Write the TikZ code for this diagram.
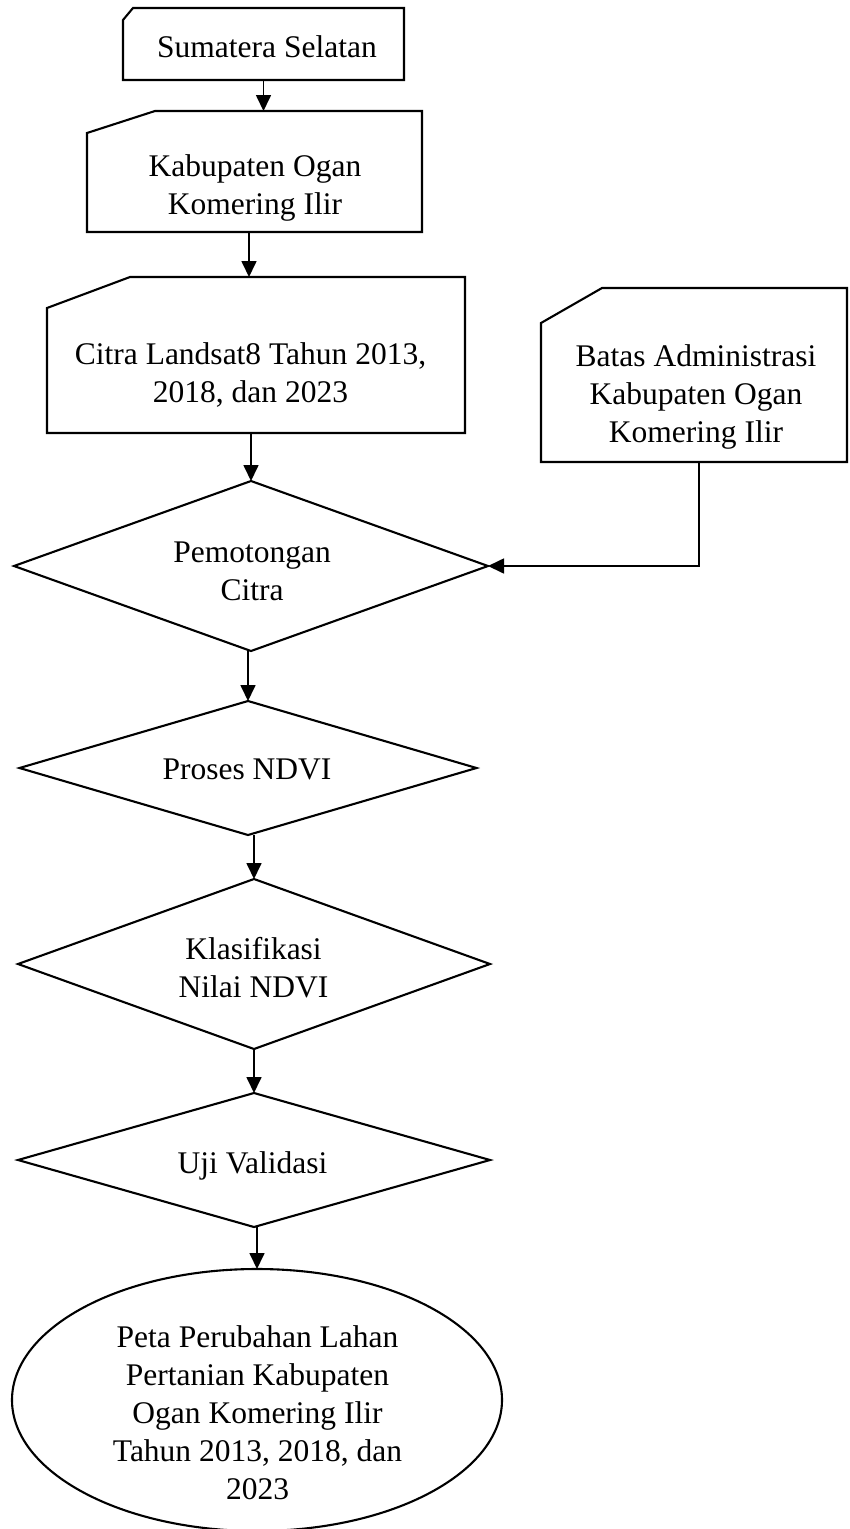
\documentclass[tikz,border=0pt]{standalone}
\usepackage{fontspec}
\setmainfont{Liberation Serif}
\usetikzlibrary{shapes.geometric,arrows.meta}
\begin{document}
\begin{tikzpicture}[x=1pt,y=-1pt,
  outline/.style={line width=2.1pt, line join=miter},
  slot/.style={draw=none, inner sep=0pt, outer sep=0pt},
  txt/.style={align=center, inner sep=0pt, font=\fontsize{31.5}{38}\selectfont},
  conn/.style={line width=1.7pt},
  arr/.style={conn, -{Triangle[length=16pt,width=15pt]}},
  dia/.style={diamond, draw, line width=2.1pt, inner sep=0pt, outer sep=0pt},
  oval/.style={ellipse, draw, line width=2.1pt, inner sep=0pt, outer sep=0pt},
]
\fill[white] (0,0) rectangle (850,1529);
\useasboundingbox (0,0) rectangle (850,1529);

% input boxes (cut top-left corner)
\node[slot, minimum width=281, minimum height=72] (b1) at (263.5,44) {};
\draw[outline] ([yshift=-12pt]b1.north west) -- ([xshift=10pt]b1.north west) -- (b1.north east) -- (b1.south east) -- (b1.south west) -- cycle;
\node[txt] (t1) at (267,47) {Sumatera Selatan};

\node[slot, minimum width=335, minimum height=121] (b2) at (254.5,171.5) {};
\draw[outline] ([yshift=-22pt]b2.north west) -- ([xshift=68pt]b2.north west) -- (b2.north east) -- (b2.south east) -- (b2.south west) -- cycle;
\node[txt] (t2) at (255,188) {Kabupaten Ogan\\Komering Ilir};

\node[slot, minimum width=418, minimum height=156] (b3) at (256,355) {};
\draw[outline] ([yshift=-31pt]b3.north west) -- ([xshift=83pt]b3.north west) -- (b3.north east) -- (b3.south east) -- (b3.south west) -- cycle;
\node[txt] (t3) at (250.5,374.5) {Citra Landsat8 Tahun 2013,\\2018, dan 2023};

\node[slot, minimum width=306, minimum height=174] (b4) at (694,375) {};
\draw[outline] ([yshift=-35pt]b4.north west) -- ([xshift=61pt]b4.north west) -- (b4.north east) -- (b4.south east) -- (b4.south west) -- cycle;
\node[txt] (t4) at (696,397) {Batas Administrasi\\Kabupaten Ogan\\Komering Ilir};

% process diamonds
\node[dia, minimum width=474, minimum height=170] (d1) at (251,566) {};
\node[txt] (t5) at (252,571) {Pemotongan\\Citra};

\node[dia, minimum width=457, minimum height=134] (d2) at (248,768) {};
\node[txt] (t6) at (247,769) {Proses NDVI};

\node[dia, minimum width=472, minimum height=170] (d3) at (254,964) {};
\node[txt] (t7) at (253.5,968) {Klasifikasi\\Nilai NDVI};

\node[dia, minimum width=472, minimum height=134] (d4) at (254,1160) {};
\node[txt] (t8) at (252.5,1166) {Uji Validasi};

% output ellipse
\node[oval, minimum width=490, minimum height=262] (e) at (257,1400) {};
\node[txt] (t9) at (257.5,1413) {Peta Perubahan Lahan\\Pertanian Kabupaten\\Ogan Komering Ilir\\Tahun 2013, 2018, dan\\2023};

% connectors
\draw[arr] (b1.south) -- (b1.south |- b2.north);
\draw[arr] ([xshift=-5.5pt]b2.south) -- ([xshift=-5.5pt]b2.south |- b3.north);
\draw[arr] (d1.north |- b3.south) -- (d1.north);
\draw[arr] ([xshift=5pt]b4.south) |- (d1.east);
\draw[arr] (d2.north |- d1.south) -- (d2.north);
\draw[arr] (d3.north |- d2.south) -- (d3.north);
\draw[arr] (d4.north |- d3.south) -- (d4.north);
\draw[arr] (e.north |- d4.south) -- (e.north);
\end{tikzpicture}
\end{document}
